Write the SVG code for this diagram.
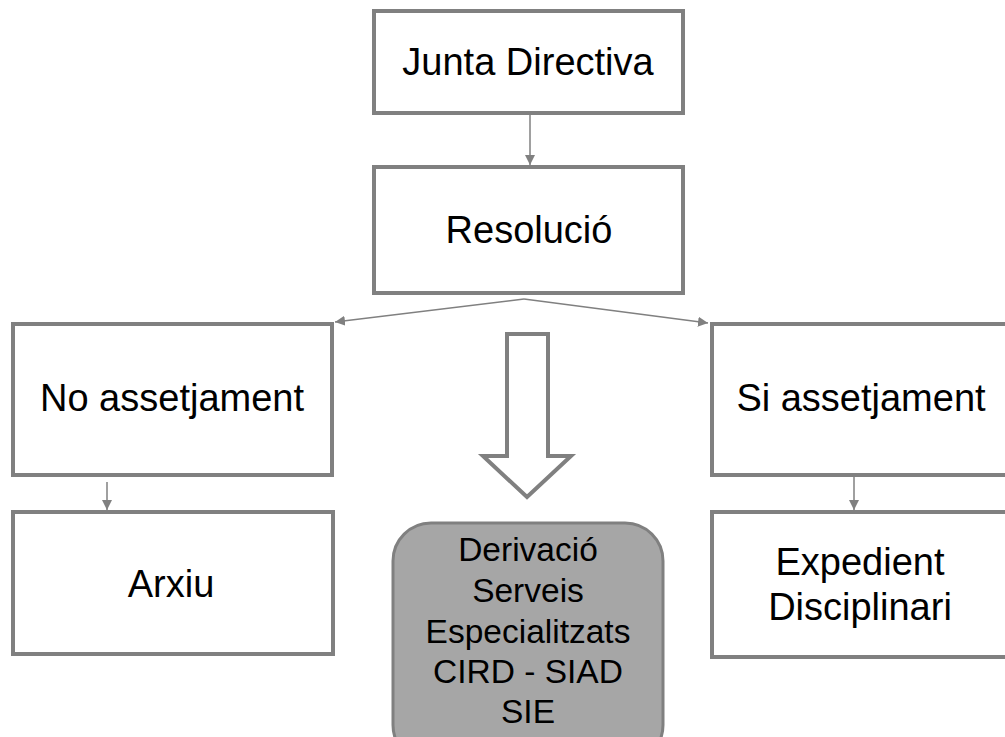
<svg xmlns="http://www.w3.org/2000/svg" width="1005" height="737" viewBox="0 0 1005 737">
<style>
.box{fill:#ffffff;stroke:#808080;stroke-width:4}
.lbl{font-family:"Liberation Sans",Arial,sans-serif;font-size:38px;fill:#000000;text-anchor:middle}
.sm{font-family:"Liberation Sans",Arial,sans-serif;font-size:33.5px;fill:#000000;text-anchor:middle}
.conn{stroke:#808080;stroke-width:1.5;fill:none;marker-end:url(#ah)}
</style>
<defs>
<marker id="ah" markerUnits="userSpaceOnUse" markerWidth="11" markerHeight="11" refX="10" refY="5" orient="auto">
<path d="M0,0 L10,5 L0,10 z" fill="#808080"/>
</marker>
</defs>
<rect width="1005" height="737" fill="#ffffff"/>
<g id="connectors">
<line class="conn" x1="530" y1="114" x2="530" y2="165"/>
<polyline class="conn" points="524,299 335,322"/>
<polyline class="conn" points="524,299 708,323"/>
<line class="conn" x1="107" y1="482" x2="107" y2="510"/>
<line class="conn" x1="854" y1="477" x2="854" y2="510"/>
<polygon points="507,334 548,334 548,456 571,456 527,497 483,456 507,456" fill="#ffffff" stroke="#808080" stroke-width="4"/>
</g>
<g id="junta">
<rect class="box" x="374" y="11" width="309" height="102"/>
<text class="lbl" x="528" y="75">Junta Directiva</text>
</g>
<g id="resolucio">
<rect class="box" x="374" y="167" width="309" height="126"/>
<text class="lbl" x="529" y="243">Resolució</text>
</g>
<g id="no-assetjament">
<rect class="box" x="13" y="324" width="319" height="151"/>
<text class="lbl" x="172" y="411">No assetjament</text>
</g>
<g id="si-assetjament">
<rect class="box" x="712" y="324" width="300" height="151"/>
<text class="lbl" x="861" y="411">Si assetjament</text>
</g>
<g id="arxiu">
<rect class="box" x="13" y="512" width="320" height="142"/>
<text class="lbl" x="171" y="597">Arxiu</text>
</g>
<g id="expedient">
<rect class="box" x="712" y="512" width="300" height="145"/>
<text class="lbl" x="860" y="575">Expedient</text>
<text class="lbl" x="860" y="620">Disciplinari</text>
</g>
<g id="derivacio">
<rect x="393" y="523" width="270" height="240" rx="38" fill="#a6a6a6" stroke="#808080" stroke-width="3"/>
<text class="sm" x="528" y="561">Derivació</text>
<text class="sm" x="528" y="602">Serveis</text>
<text class="sm" x="528" y="643">Especialitzats</text>
<text class="sm" x="528" y="683">CIRD - SIAD</text>
<text class="sm" x="528" y="723">SIE</text>
</g>
</svg>
